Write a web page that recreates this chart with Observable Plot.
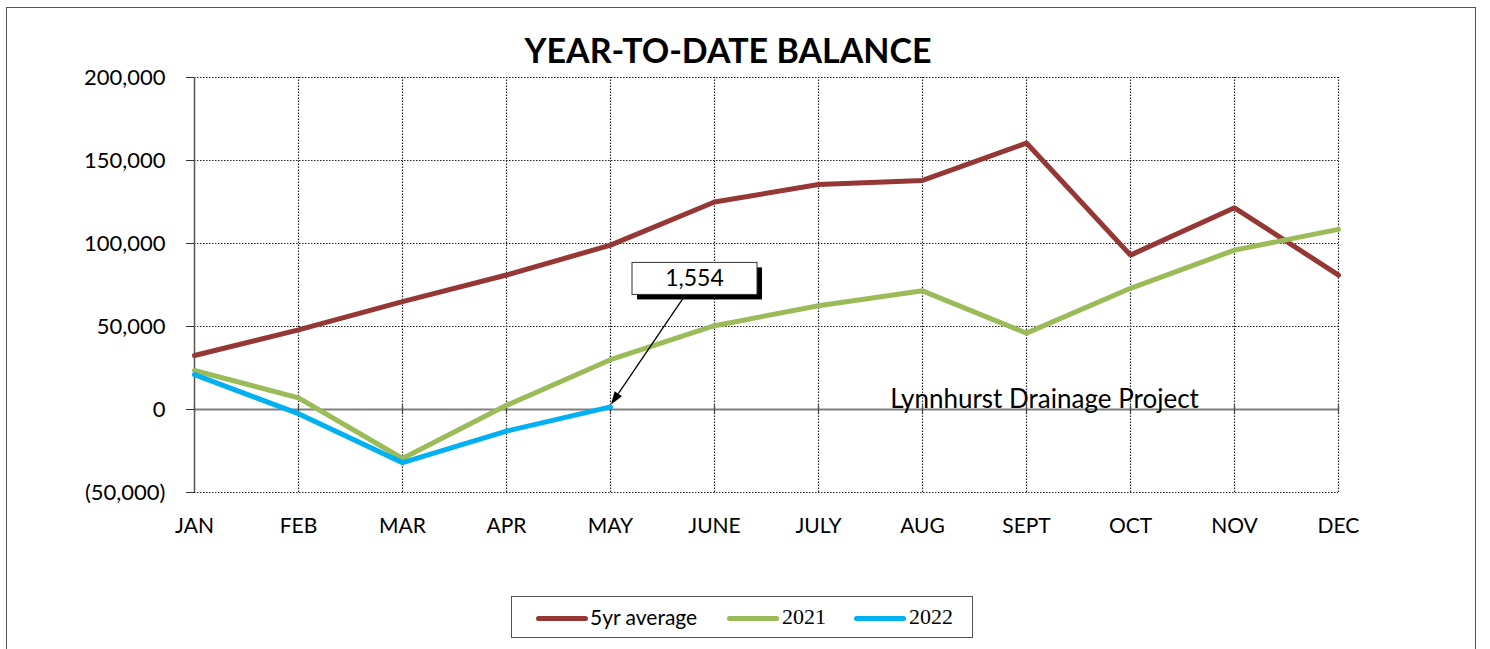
<!DOCTYPE html>
<html>
<head>
<meta charset="utf-8">
<script src="https://cdn.jsdelivr.net/npm/d3@7"></script>
<script src="https://cdn.jsdelivr.net/npm/@observablehq/plot@0.6"></script>
<style>
  html, body { margin: 0; padding: 0; background: #fff; }
  body { width: 1490px; height: 649px; position: relative; overflow: hidden; font-family: Lato, "Noto Sans", sans-serif; }
  #frame { position: absolute; left: 6px; top: 7px; width: 1470px; height: 700px; border: 1.5px solid #555; box-sizing: border-box; }
  #chart { position: absolute; left: 0; top: 0; }
  #title { position: absolute; left: 0; width: 1456px; top: 29px; text-align: center; font-weight: bold; font-size: 34px; color: #000; }
  #legend { position: absolute; left: 511px; top: 596px; width: 462px; height: 42px; border: 1.5px solid #555; box-sizing: border-box; }
  .sw { position: absolute; top: 19px; height: 5px; border-radius: 3px; }
  .lt { position: absolute; top: 7px; font-size: 21px; color: #000; line-height: 26px; }
  .serif { font-family: "Liberation Serif", "DejaVu Serif", serif; font-size: 22px; }
</style>
</head>
<body>
<div id="frame"></div>
<div id="chart"></div>
<div id="title">YEAR-TO-DATE BALANCE</div>
<div id="legend"></div>
<script>
const months = ["JAN","FEB","MAR","APR","MAY","JUNE","JULY","AUG","SEPT","OCT","NOV","DEC"];
const avg5 = [32500, 48000, 65000, 81000, 99000, 125000, 135500, 138000, 160500, 93000, 121500, 81000];
const y2021 = [23500, 7000, -29500, 2500, 30000, 50500, 62500, 71500, 46000, 73000, 96000, 108500];
const y2022 = [21000, -2500, -32000, -13000, 1554];
const yTicks = [-50000, 0, 50000, 100000, 150000, 200000];
const seriesNames = ["5yr average", "2021", "2022"];
const seriesColors = ["#953735", "#9BBB59", "#00B0F0"];
const calloutLabel = "1,554";
const noteLabel = "Lynnhurst Drainage Project";

const rows = (vals) => vals.map((v, i) => ({month: months[i], value: v}));
const fmt = d3.format(",");
const yFmt = d => d < 0 ? `(${fmt(-d)})` : fmt(d);

function callout(index, scales) {
  const x0 = scales.x("MAY"), y0 = scales.y(y2022[4]);
  const g = d3.create("svg:g");
  const bx = x0 + 22, by = y0 - 144, bw = 125, bh = 32;
  // arrow
  const sx = x0 + 73, sy = y0 - 108;
  const ex = x0 + 1, ey = y0 - 2;
  const ang = Math.atan2(ey - sy, ex - sx);
  const L = 13, W = 4.5;
  const hx = ex - L * Math.cos(ang), hy = ey - L * Math.sin(ang);
  g.append("line").attr("x1", sx).attr("y1", sy).attr("x2", hx).attr("y2", hy)
    .attr("stroke", "#000").attr("stroke-width", 1.3);
  g.append("path")
    .attr("d", `M${ex},${ey}L${hx + W * Math.sin(ang)},${hy - W * Math.cos(ang)}L${hx - W * Math.sin(ang)},${hy + W * Math.cos(ang)}Z`)
    .attr("fill", "#000");
  g.append("rect").attr("x", bx + 5).attr("y", by + 5).attr("width", bw).attr("height", bh).attr("fill", "#000");
  g.append("rect").attr("x", bx).attr("y", by).attr("width", bw).attr("height", bh)
    .attr("fill", "#fff").attr("stroke", "#333").attr("stroke-width", 1);
  g.append("text").attr("x", bx + bw / 2).attr("y", by + bh / 2 + 8)
    .attr("text-anchor", "middle").attr("font-size", 23).attr("fill", "#000").text(calloutLabel);
  return g.node();
}

const chart = Plot.plot({
  width: 1490,
  height: 560,
  marginLeft: 194,
  marginRight: 152,
  marginTop: 77,
  marginBottom: 68,
  style: {fontFamily: "Lato, 'Noto Sans', sans-serif", fontSize: "22px", color: "#000", background: "transparent"},
  x: {type: "point", domain: months, padding: 0, align: 0.5, label: null},
  y: {domain: [-50000, 200000], label: null},
  marks: [
    Plot.ruleY(yTicks.filter(d => d !== 0), {y: d => d, stroke: "#222", strokeWidth: 1.2, strokeDasharray: "1.5,1.5"}),
    Plot.ruleX(months.slice(1), {x: d => d, y1: -50000, y2: 200000, stroke: "#222", strokeWidth: 1.2, strokeDasharray: "1.5,1.5"}),
    Plot.ruleY([0], {stroke: "#7f7f7f", strokeWidth: 2}),
    Plot.ruleX(months, {x: d => d, y1: -2300, y2: 2300, stroke: "#444", strokeWidth: 1.2}),
    Plot.ruleX(["JAN"], {x: d => d, y1: -50000, y2: 200000, stroke: "#555", strokeWidth: 1.5}),
    Plot.axisY({ticks: yTicks, tickFormat: yFmt, tickSize: 8, tickPadding: 21, fontSize: 22, stroke: "#333"}),
    Plot.axisX({tickSize: 0, tickPadding: 26, fontSize: 21}),
    Plot.text([noteLabel], {x: () => "SEPT", y: () => 0, text: d => d, dx: 18, dy: -9.5, textAnchor: "middle", fontSize: 26, fill: "#000"}),
    Plot.line(rows(avg5), {x: "month", y: "value", stroke: seriesColors[0], strokeWidth: 5, strokeLinejoin: "miter"}),
    Plot.line(rows(y2021), {x: "month", y: "value", stroke: seriesColors[1], strokeWidth: 5, strokeLinejoin: "miter"}),
    Plot.line(rows(y2022), {x: "month", y: "value", stroke: seriesColors[2], strokeWidth: 5, strokeLinejoin: "miter"}),
    callout
  ]
});
document.getElementById("chart").appendChild(chart);

// legend
const legend = document.getElementById("legend");
const swX = [24, 215, 342];
const txX = [78, 270, 397];
seriesNames.forEach((name, i) => {
  const sw = document.createElement("div");
  sw.className = "sw";
  sw.style.left = swX[i] + "px";
  sw.style.width = "52px";
  sw.style.background = seriesColors[i];
  legend.appendChild(sw);
  const t = document.createElement("div");
  t.className = "lt" + (i > 0 ? " serif" : "");
  t.style.left = txX[i] + "px";
  t.textContent = name;
  legend.appendChild(t);
});
</script>
</body>
</html>
